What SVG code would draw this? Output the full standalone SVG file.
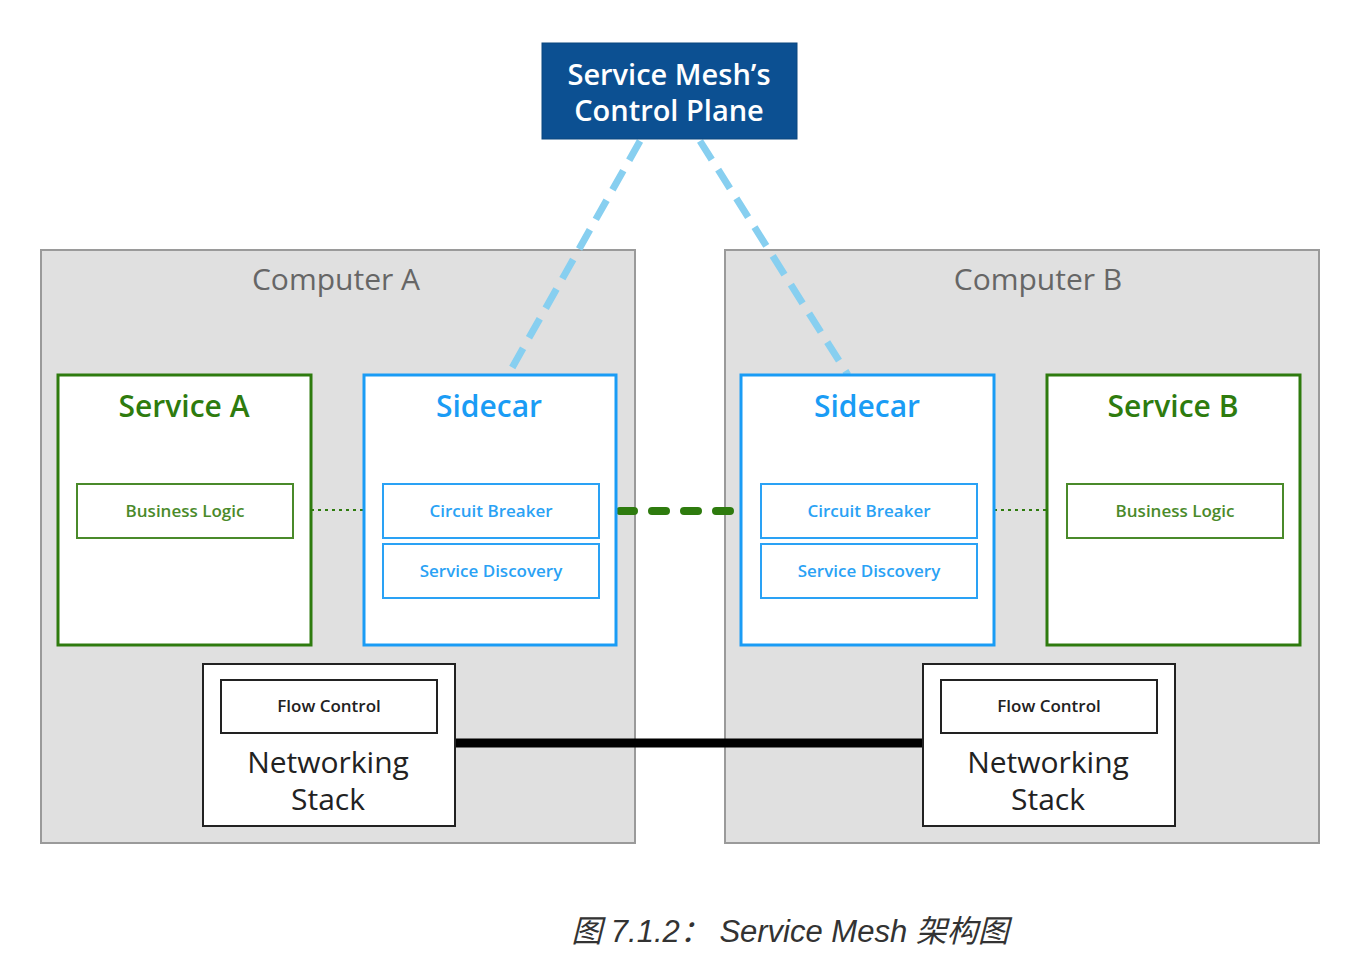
<svg xmlns="http://www.w3.org/2000/svg" width="1370" height="958" viewBox="0 0 1370 958">
<style>
text{font-family:"Open Sans","DejaVu Sans",sans-serif;text-anchor:middle}
.comp{fill:#e0e0e0;stroke:#9a9a9a;stroke-width:2}
.comptxt{font-size:30px;fill:#666}
.svc{fill:#fff;stroke:#2e7b0e;stroke-width:3}
.svctxt{font-size:30px;fill:#2e7b0e;font-weight:600}
.inner-g{fill:#fff;stroke:#4a8a2a;stroke-width:2}
.inner-gtxt{font-size:17px;fill:#4a8a2a;font-weight:600}
.side{fill:#fff;stroke:#1a9cf5;stroke-width:3}
.sidetxt{font-size:30px;fill:#1a9cf5;font-weight:600}
.inner-b{fill:#fff;stroke:#2aa2f5;stroke-width:2}
.inner-btxt{font-size:17px;fill:#2aa2f5;font-weight:600}
.net{fill:#fff;stroke:#222;stroke-width:2}
.nettxt{font-size:30px;fill:#222}
.fc{fill:#fff;stroke:#222;stroke-width:2}
.fctxt{font-size:17px;fill:#222;font-weight:600}
</style>
<rect width="1370" height="958" fill="#fff"/>
<g id="computerA">
<rect class="comp" x="41" y="250" width="594" height="593"/>
<text class="comptxt" x="336" y="290">Computer A</text>
</g>
<g id="computerB">
<rect class="comp" x="725" y="250" width="594" height="593"/>
<text class="comptxt" x="1038" y="290">Computer B</text>
</g>
<g id="connectors">
<line x1="640" y1="141" x2="508" y2="375" stroke="#87cff0" stroke-width="7" stroke-dasharray="22,12"/>
<line x1="700" y1="141" x2="848" y2="375" stroke="#87cff0" stroke-width="7" stroke-dasharray="22,12"/>
<line x1="311" y1="510" x2="364" y2="510" stroke="#2e7b0e" stroke-width="2" stroke-dasharray="3,4"/>
<line x1="994" y1="510" x2="1047" y2="510" stroke="#2e7b0e" stroke-width="2" stroke-dasharray="3,4"/>
<line x1="620" y1="511" x2="737" y2="511" stroke="#2e7b0e" stroke-width="8" stroke-linecap="round" stroke-dasharray="14,18"/>
<line x1="455" y1="743" x2="923" y2="743" stroke="#000" stroke-width="9"/>
</g>
<g id="controlPlane">
<rect x="542" y="43" width="255" height="96" fill="#0c5092" stroke="#0a467f" stroke-width="1"/>
<text x="669" y="85" font-size="29" fill="#fff" font-weight="600">Service Mesh’s</text>
<text x="669" y="121" font-size="29" fill="#fff" font-weight="600">Control Plane</text>
</g>
<g id="serviceA">
<rect class="svc" x="58" y="375" width="253" height="270"/>
<text class="svctxt" x="184" y="417">Service A</text>
<rect class="inner-g" x="77" y="484" width="216" height="54"/>
<text class="inner-gtxt" x="185" y="517">Business Logic</text>
</g>
<g id="sidecarA">
<rect class="side" x="364" y="375" width="252" height="270"/>
<text class="sidetxt" x="489" y="417">Sidecar</text>
<rect class="inner-b" x="383" y="484" width="216" height="54"/>
<text class="inner-btxt" x="491" y="517">Circuit Breaker</text>
<rect class="inner-b" x="383" y="544" width="216" height="54"/>
<text class="inner-btxt" x="491" y="577">Service Discovery</text>
</g>
<g id="sidecarB">
<rect class="side" x="741" y="375" width="253" height="270"/>
<text class="sidetxt" x="867" y="417">Sidecar</text>
<rect class="inner-b" x="761" y="484" width="216" height="54"/>
<text class="inner-btxt" x="869" y="517">Circuit Breaker</text>
<rect class="inner-b" x="761" y="544" width="216" height="54"/>
<text class="inner-btxt" x="869" y="577">Service Discovery</text>
</g>
<g id="serviceB">
<rect class="svc" x="1047" y="375" width="253" height="270"/>
<text class="svctxt" x="1173" y="417">Service B</text>
<rect class="inner-g" x="1067" y="484" width="216" height="54"/>
<text class="inner-gtxt" x="1175" y="517">Business Logic</text>
</g>
<g id="netA">
<rect class="net" x="203" y="664" width="252" height="162"/>
<rect class="fc" x="221" y="680" width="216" height="53"/>
<text class="fctxt" x="329" y="712">Flow Control</text>
<text class="nettxt" x="328" y="773">Networking</text>
<text class="nettxt" x="328" y="810">Stack</text>
</g>
<g id="netB">
<rect class="net" x="923" y="664" width="252" height="162"/>
<rect class="fc" x="941" y="680" width="216" height="53"/>
<text class="fctxt" x="1049" y="712">Flow Control</text>
<text class="nettxt" x="1048" y="773">Networking</text>
<text class="nettxt" x="1048" y="810">Stack</text>
</g>
<text x="790" y="942" font-size="31" font-style="italic" fill="#333" style="font-family:'Liberation Sans','Noto Sans CJK SC',sans-serif">图 7.1.2： Service Mesh 架构图</text>
</svg>
